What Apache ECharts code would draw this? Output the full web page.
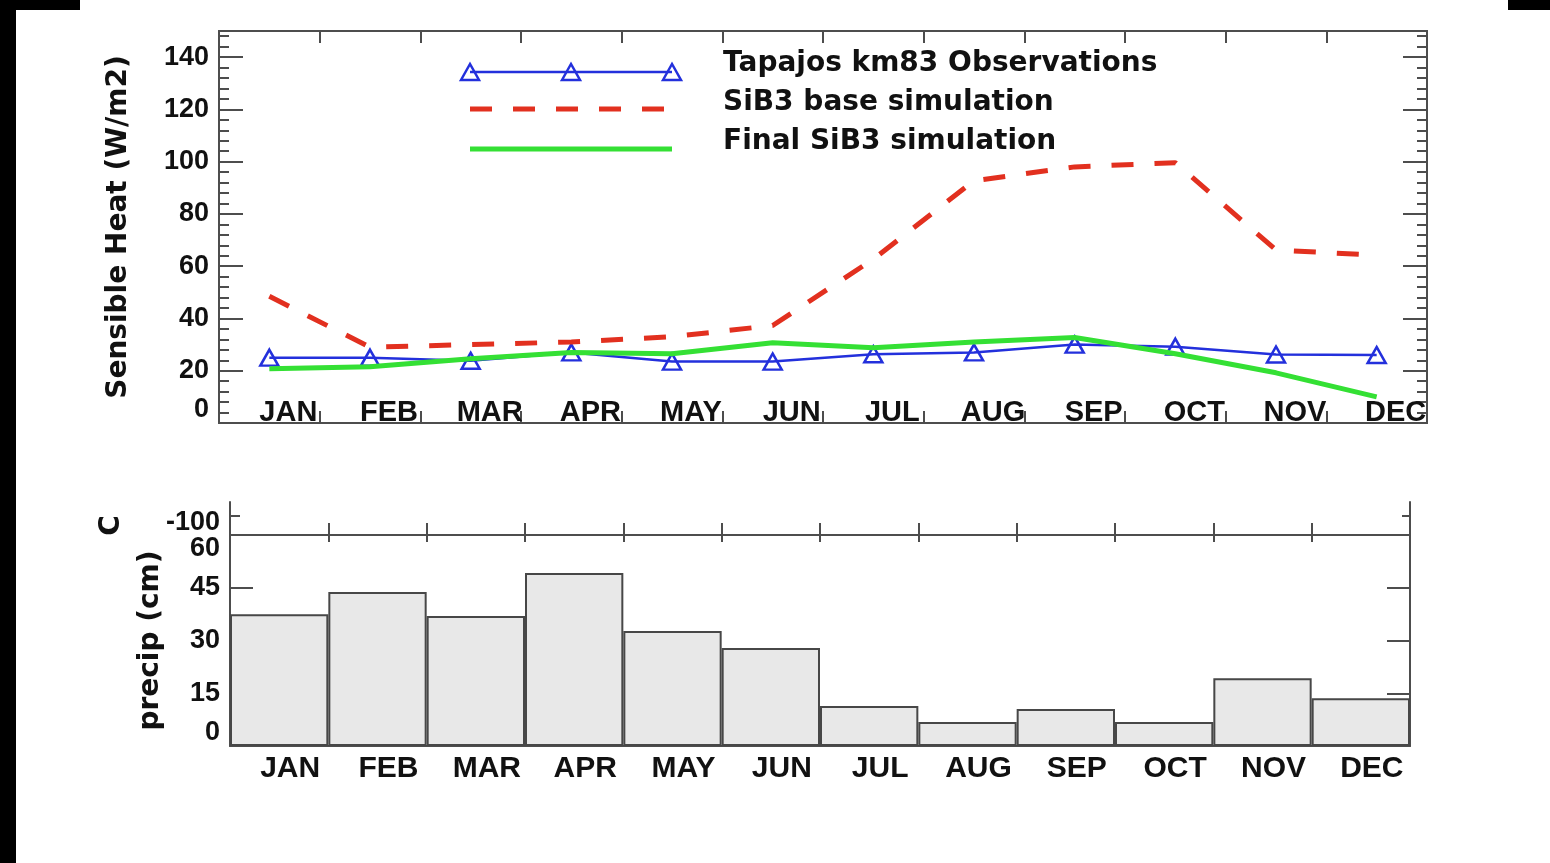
<!DOCTYPE html>
<html>
<head>
<meta charset="utf-8">
<title>Sensible heat and precipitation, Tapajos km83</title>
<script src="https://cdn.jsdelivr.net/npm/echarts@6/dist/echarts.min.js"></script>
<style>
  html, body { margin: 0; padding: 0; background: #fff; }
  #chart { width: 1550px; height: 863px; }
</style>
</head>
<body>
<div id="chart"></div>
<script>
// Monthly categories shared by both panels
const months = ['JAN', 'FEB', 'MAR', 'APR', 'MAY', 'JUN', 'JUL', 'AUG', 'SEP', 'OCT', 'NOV', 'DEC'];

// Sensible heat flux (W/m2)
const observations = [25, 25, 23.8, 27, 23.5, 23.5, 26.3, 27, 30, 29.2, 26.2, 26];
const baseSimulation = [48.5, 29, 30, 31, 33, 37.3, 62.7, 92.7, 98, 99.6, 66.2, 64.2];
const finalSimulation = [20.8, 21.5, 24.6, 27, 26.5, 30.7, 28.8, 31, 32.7, 26.5, 19.2, 10];

// Monthly precipitation (cm)
const precip = [37.5, 43.8, 37, 49.2, 32.7, 27.9, 11.4, 6.8, 10.5, 6.8, 19.3, 13.6];

// Legend entries
const legendNames = ['Tapajos km83 Observations', 'SiB3 base simulation', 'Final SiB3 simulation'];

const BLUE = '#2330dc';
const RED = '#e2301f';
const GREEN = '#34e034';
const AXIS = '#4d4d4d';
const INK = '#111';
const TICK_FONT = 'Liberation Sans, Arial, sans-serif';
const TITLE_FONT = 'DejaVu Sans, sans-serif';

const axisLine = { show: true, onZero: false, lineStyle: { color: AXIS, width: 2 } };
const tickStyle = { color: AXIS, width: 2 };

function valueAxis(extra) {
  return Object.assign({
    type: 'value',
    axisLine: axisLine,
    splitLine: { show: false },
    axisLabel: { show: false },
    axisTick: { show: true, inside: true, length: 10, lineStyle: tickStyle }
  }, extra);
}

function catAxis(extra) {
  return Object.assign({
    type: 'category',
    data: months,
    boundaryGap: true,
    axisLine: axisLine,
    splitLine: { show: false },
    axisLabel: { show: false },
    axisTick: { show: true, inside: true, length: 12, interval: 0, lineStyle: tickStyle }
  }, extra);
}

const chart = echarts.init(document.getElementById('chart'), null, { renderer: 'canvas' });

// Legend samples and labels
const legendY = [72, 109, 149];
const legendGraphics = [];
legendGraphics.push({
  type: 'line', shape: { x1: 470, y1: legendY[0], x2: 672, y2: legendY[0] },
  style: { stroke: BLUE, lineWidth: 2.5 }
});
[470, 571, 672].forEach(function (x) {
  legendGraphics.push({
    type: 'polygon', x: x, y: legendY[0],
    shape: { points: [[-9, 8], [0, -8], [9, 8]] },
    style: { fill: 'rgba(0,0,0,0)', stroke: BLUE, lineWidth: 2.5 }
  });
});
legendGraphics.push({
  type: 'line', shape: { x1: 470, y1: legendY[1], x2: 664, y2: legendY[1] },
  style: { stroke: RED, lineWidth: 5, lineDash: [22, 21] }
});
legendGraphics.push({
  type: 'line', shape: { x1: 470, y1: legendY[2], x2: 672, y2: legendY[2] },
  style: { stroke: GREEN, lineWidth: 5 }
});
[64, 103, 142].forEach(function (y, i) {
  legendGraphics.push({
    type: 'text', x: 723, y: y,
    style: {
      text: legendNames[i], fill: INK, font: 'bold 28px ' + TITLE_FONT,
      textAlign: 'left', textVerticalAlign: 'middle'
    }
  });
});

// Page frame blocks
const frame = [
  { type: 'rect', shape: { x: 0, y: 0, width: 16, height: 863 }, style: { fill: '#000' } },
  { type: 'rect', shape: { x: 0, y: 0, width: 80, height: 10 }, style: { fill: '#000' } },
  { type: 'rect', shape: { x: 1508, y: 0, width: 42, height: 10 }, style: { fill: '#000' } }
];

const option = {
  backgroundColor: '#fff',
  animation: false,
  grid: [
    { left: 219, right: 123, top: 31, height: 392 },
    { left: 230, right: 140, top: 502, height: 33 },
    { left: 230, right: 140, top: 535, height: 211 }
  ],
  xAxis: [
    catAxis({
      gridIndex: 0, position: 'bottom',
      axisLabel: {
        show: true, inside: true, interval: 0, margin: -4,
        color: INK, fontFamily: TICK_FONT, fontWeight: 'bold', fontSize: 29,
        padding: [0, 0, 0, 38]
      }
    }),
    catAxis({ gridIndex: 0, position: 'top' }),
    catAxis({ gridIndex: 1, position: 'bottom' }),
    catAxis({
      gridIndex: 2, position: 'bottom',
      axisTick: { show: false },
      axisLabel: {
        show: true, interval: 0, margin: 8,
        color: INK, fontFamily: TICK_FONT, fontWeight: 'bold', fontSize: 30,
        padding: [0, 0, 0, 22]
      }
    }),
    catAxis({
      gridIndex: 2, position: 'top',
      axisTick: { show: true, inside: true, length: 7, interval: 0, lineStyle: tickStyle }
    })
  ],
  yAxis: [
    valueAxis({
      gridIndex: 0, position: 'left', min: 0, max: 150, interval: 20,
      axisTick: { show: true, inside: true, length: 24, lineStyle: tickStyle },
      axisLabel: {
        show: true, margin: 10, showMaxLabel: false, verticalAlignMinLabel: 'bottom',
        color: INK, fontFamily: TICK_FONT, fontWeight: 'bold', fontSize: 27
      },
      name: 'Sensible Heat (W/m2)', nameLocation: 'middle', nameGap: 86,
      nameTextStyle: { color: INK, fontFamily: TITLE_FONT, fontWeight: 'bold', fontSize: 28 }
    }),
    valueAxis({ gridIndex: 0, position: 'left', min: 0, max: 150, interval: 4 }),
    valueAxis({
      gridIndex: 0, position: 'right', min: 0, max: 150, interval: 20,
      axisTick: { show: true, inside: true, length: 24, lineStyle: tickStyle }
    }),
    valueAxis({ gridIndex: 0, position: 'right', min: 0, max: 150, interval: 4 }),
    valueAxis({
      gridIndex: 1, position: 'left', min: -128, max: -80,
      axisTick: { show: true, inside: true, length: 10, customValues: [-100], lineStyle: tickStyle },
      axisLabel: {
        show: true, margin: 10, customValues: [-100], verticalAlign: 'top', lineHeight: 14,
        color: INK, fontFamily: TICK_FONT, fontWeight: 'bold', fontSize: 27
      },
      name: 'C', nameLocation: 'middle', nameGap: 104,
      nameTextStyle: {
        color: INK, fontFamily: TITLE_FONT, fontWeight: 'bold', fontSize: 28,
        padding: [0, 14, 0, 0]
      }
    }),
    valueAxis({
      gridIndex: 1, position: 'right', min: -128, max: -80,
      axisTick: { show: true, inside: true, length: 8, customValues: [-100], lineStyle: tickStyle }
    }),
    valueAxis({
      gridIndex: 2, position: 'left', min: 0, max: 60, interval: 15,
      axisTick: { show: true, inside: true, length: 23, lineStyle: tickStyle },
      axisLabel: {
        show: true, margin: 10,
        verticalAlignMinLabel: 'bottom', verticalAlignMaxLabel: 'top',
        color: INK, fontFamily: TICK_FONT, fontWeight: 'bold', fontSize: 27
      },
      name: 'precip (cm)', nameLocation: 'middle', nameGap: 65,
      nameTextStyle: { color: INK, fontFamily: TITLE_FONT, fontWeight: 'bold', fontSize: 28 }
    }),
    valueAxis({
      gridIndex: 2, position: 'right', min: 0, max: 60, interval: 15,
      axisTick: { show: true, inside: true, length: 23, lineStyle: tickStyle }
    })
  ],
  series: [
    {
      name: legendNames[0], type: 'line', xAxisIndex: 0, yAxisIndex: 0,
      data: observations,
      symbol: 'triangle', symbolSize: [18, 16], showSymbol: true,
      lineStyle: { color: BLUE, width: 2.5 },
      itemStyle: { color: 'rgba(0,0,0,0)', borderColor: BLUE, borderWidth: 2.5 },
      z: 3
    },
    {
      name: legendNames[1], type: 'line', xAxisIndex: 0, yAxisIndex: 0,
      data: baseSimulation, symbol: 'none',
      lineStyle: { color: RED, width: 5, type: [22, 21] },
      z: 4
    },
    {
      name: legendNames[2], type: 'line', xAxisIndex: 0, yAxisIndex: 0,
      data: finalSimulation, symbol: 'none',
      lineStyle: { color: GREEN, width: 5 },
      z: 5
    },
    {
      name: 'precip', type: 'bar', xAxisIndex: 3, yAxisIndex: 6,
      data: precip, barCategoryGap: '0%',
      itemStyle: { color: '#e8e8e8', borderColor: '#474747', borderWidth: 2 }
    }
  ],
  graphic: frame.concat(legendGraphics)
};

chart.setOption(option);
</script>
</body>
</html>
